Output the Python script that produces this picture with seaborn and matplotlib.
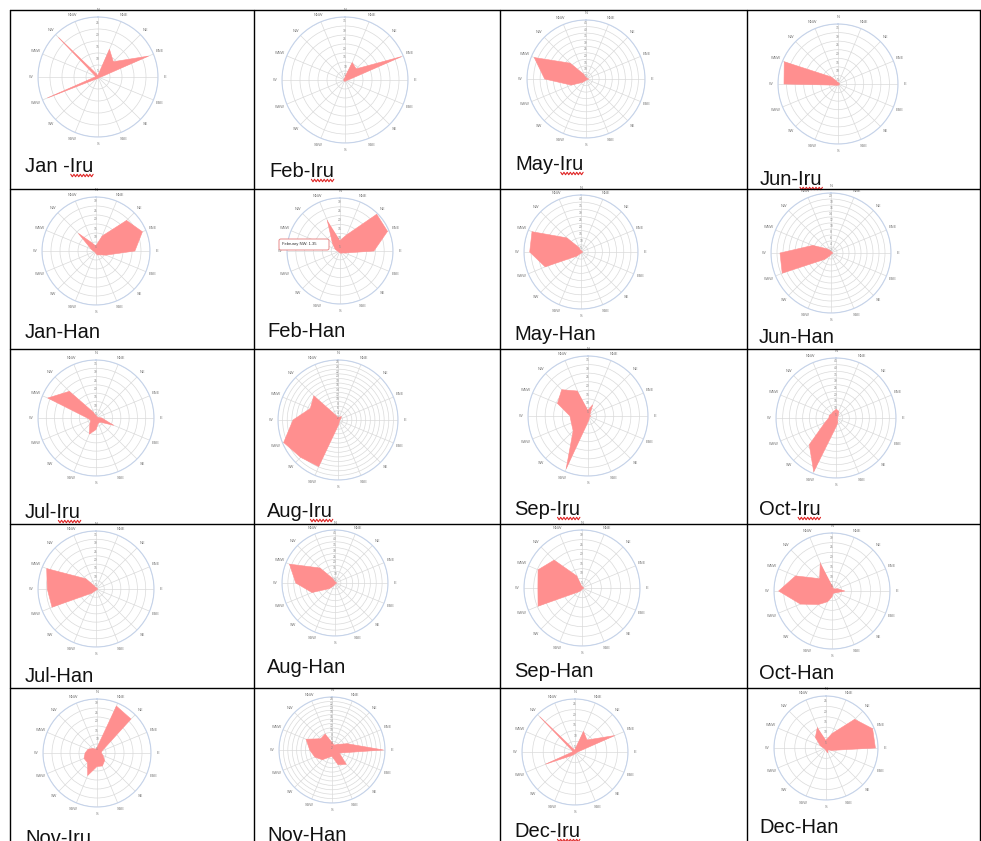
import numpy as np
import matplotlib.pyplot as plt
from matplotlib.lines import Line2D
from matplotlib.patches import FancyBboxPatch
import seaborn as sns

W, H = 981, 841

# wind directions, clockwise from north
directions = ['N', 'NNE', 'NE', 'ENE', 'E', 'ESE', 'SE', 'SSE',
              'S', 'SSW', 'SW', 'WSW', 'W', 'WNW', 'NW', 'NNW']

labels = ['Jan -Iru', 'Feb-Iru', 'May-Iru', 'Jun-Iru',
          'Jan-Han', 'Feb-Han', 'May-Han', 'Jun-Han',
          'Jul-Iru', 'Aug-Iru', 'Sep-Iru', 'Oct-Iru',
          'Jul-Han', 'Aug-Han', 'Sep-Han', 'Oct-Han',
          'Nov-Iru', 'Nov-Han', 'Dec-Iru', 'Dec-Han']

# frequency per direction (share of outer ring)
jan_iru = [0.03, 0.50, 0.36, 0.91, 0.05, 0.02, 0.02, 0.02, 0.02, 0.03, 0.05, 0.91, 0.05, 0.05, 0.93, 0.05]
feb_iru = [0.05, 0.30, 0.25, 0.97, 0.05, 0.02, 0.02, 0.02, 0.02, 0.02, 0.02, 0.02, 0.02, 0.02, 0.02, 0.03]
may_iru = [0.03, 0.02, 0.02, 0.02, 0.05, 0.02, 0.02, 0.02, 0.02, 0.03, 0.08, 0.27, 0.70, 0.95, 0.38, 0.08]
jun_iru = [0.03, 0.02, 0.02, 0.02, 0.03, 0.02, 0.02, 0.02, 0.02, 0.02, 0.03, 0.05, 0.90, 0.97, 0.17, 0.05]
jan_han = [0.10, 0.30, 0.80, 0.93, 0.72, 0.20, 0.10, 0.08, 0.05, 0.03, 0.03, 0.03, 0.05, 0.10, 0.46, 0.15]
feb_han = [0.20, 0.33, 0.98, 0.97, 0.64, 0.10, 0.05, 0.05, 0.03, 0.03, 0.03, 0.03, 0.05, 0.10, 0.20, 0.63]
may_han = [0.03, 0.02, 0.02, 0.02, 0.03, 0.02, 0.02, 0.02, 0.02, 0.03, 0.10, 0.68, 0.90, 0.93, 0.35, 0.08]
jun_han = [0.03, 0.02, 0.02, 0.02, 0.03, 0.02, 0.02, 0.02, 0.02, 0.05, 0.15, 0.88, 0.85, 0.33, 0.10, 0.05]
jul_iru = [0.05, 0.03, 0.03, 0.03, 0.10, 0.33, 0.10, 0.10, 0.20, 0.30, 0.15, 0.10, 0.15, 0.90, 0.65, 0.10]
aug_iru = [0.05, 0.05, 0.08, 0.05, 0.03, 0.03, 0.03, 0.05, 0.10, 0.84, 0.88, 0.98, 0.75, 0.50, 0.57, 0.08]
sep_iru = [0.10, 0.20, 0.05, 0.03, 0.05, 0.03, 0.03, 0.05, 0.10, 0.95, 0.35, 0.30, 0.30, 0.55, 0.62, 0.45]
oct_iru = [0.15, 0.12, 0.05, 0.03, 0.03, 0.03, 0.03, 0.08, 0.15, 0.97, 0.63, 0.20, 0.12, 0.12, 0.10, 0.12]
jul_han = [0.03, 0.02, 0.02, 0.02, 0.03, 0.02, 0.02, 0.02, 0.02, 0.03, 0.10, 0.82, 0.84, 0.92, 0.25, 0.05]
aug_han = [0.03, 0.02, 0.02, 0.02, 0.03, 0.02, 0.02, 0.02, 0.02, 0.05, 0.15, 0.47, 0.74, 0.93, 0.40, 0.08]
sep_han = [0.03, 0.02, 0.02, 0.02, 0.03, 0.02, 0.02, 0.02, 0.02, 0.05, 0.10, 0.82, 0.76, 0.82, 0.68, 0.22]
oct_han = [0.10, 0.05, 0.05, 0.10, 0.22, 0.08, 0.05, 0.05, 0.10, 0.20, 0.33, 0.59, 0.92, 0.68, 0.30, 0.53]
nov_iru = [0.10, 0.94, 0.89, 0.10, 0.08, 0.12, 0.20, 0.26, 0.25, 0.45, 0.25, 0.26, 0.22, 0.18, 0.12, 0.08]
nov_han = [0.15, 0.10, 0.15, 0.31, 0.97, 0.15, 0.38, 0.30, 0.12, 0.15, 0.26, 0.35, 0.42, 0.53, 0.30, 0.33]
dec_iru = [0.05, 0.42, 0.32, 0.81, 0.05, 0.03, 0.03, 0.03, 0.03, 0.05, 0.10, 0.60, 0.05, 0.05, 0.94, 0.05]
dec_han = [0.15, 0.30, 0.78, 0.97, 0.95, 0.12, 0.05, 0.10, 0.05, 0.03, 0.03, 0.03, 0.05, 0.12, 0.29, 0.43]

series = [jan_iru, feb_iru, may_iru, jun_iru,
          jan_han, feb_han, may_han, jun_han,
          jul_iru, aug_iru, sep_iru, oct_iru,
          jul_han, aug_han, sep_han, oct_han,
          nov_iru, nov_han, dec_iru, dec_han]

# number of grid rings and tick step of each chart
rings = [5, 7, 9, 7, 6, 6, 8, 10, 7, 13, 7, 9, 7, 9, 6, 6, 6, 12, 5, 5]
steps = [5, 5, 5, 5, 5, 5, 5, 2, 5, 2, 5, 5, 5, 5, 5, 5, 5, 2, 5, 5]

# layout in pixels: chart centre x, y, radius; caption left x, baseline y
chart_pos = [(98, 77, 60), (345, 80, 63), (586, 79, 59), (838, 84, 60),
             (96, 251, 54), (340, 251, 53), (581, 252, 57), (831, 253, 60),
             (96, 418, 58), (338, 420, 60), (588, 416, 60), (836, 418, 60),
             (96, 589, 58), (335, 583, 53), (582, 588, 58), (832, 591, 58),
             (97, 753, 54), (332, 750, 53), (575, 752, 53), (826, 748, 52)]
caption_pos = [(25, 172), (269, 177), (515, 170), (760, 185),
               (25, 338), (267, 337), (514, 340), (759, 343),
               (25, 518), (267, 517), (514, 515), (759, 515),
               (25, 682), (267, 673), (514, 677), (759, 679),
               (25, 844), (267, 841), (514, 837), (759, 833)]

sns.set_style('white')
plt.rcParams['font.family'] = ['Liberation Sans', 'DejaVu Sans']

fig = plt.figure(figsize=(W / 100, H / 100), dpi=100)
fill = '#ff8f8f'
theta = np.deg2rad(np.arange(16) * 22.5)

for vals, n, step, (cx, cy, R) in zip(series, rings, steps, chart_pos):
    ax = fig.add_axes([(cx - R) / W, 1 - (cy + R) / H, 2 * R / W, 2 * R / H],
                      projection='polar')
    ax.set_theta_zero_location('N')
    ax.set_theta_direction(-1)
    t = np.append(theta, theta[0])
    r = np.append(vals, vals[0])
    ax.fill(t, r, color=fill, lw=0, zorder=3)
    sns.lineplot(x=t, y=r, ax=ax, sort=False, color=fill, lw=0.4, zorder=3)
    ax.set_ylim(0, 1)
    ax.set_xticks(theta)
    ax.set_xticklabels([])
    ax.set_yticks(np.arange(1, n + 1) / n)
    ax.set_yticklabels([])
    ax.grid(color='#dadada', lw=0.5)
    ax.spines['polar'].set_color('#c5d3ea')
    ax.spines['polar'].set_linewidth(0.8)
    ax.set_xlabel('')
    ax.set_ylabel('')
    # compass labels just outside the ring
    for th, d in zip(theta, directions):
        ax.text(th, 1 + 7 / R, d, fontsize=2.8, color='#777777',
                ha='center', va='center', clip_on=False)
    # ring values along the north spoke
    for k in range(1, n + 1):
        ax.text(0, k / n - 0.5 / n, str(k * step), fontsize=2.3, color='#888888',
                ha='center', va='center', zorder=4)

# captions
renderer = fig.canvas.get_renderer()
for lab, (x, y) in zip(labels, caption_pos):
    txt = fig.text(x / W, 1 - y / H, lab, fontsize=14.5, color='#111111',
                   ha='left', va='baseline')
    if 'Iru' in lab:
        pre = fig.text(x / W, 1 - y / H, lab.split('Iru')[0], fontsize=14.5,
                       ha='left', va='baseline')
        x0 = pre.get_window_extent(renderer).x1 + 1
        pre.remove()
        x1 = txt.get_window_extent(renderer).x1
        xs = np.arange(x0, x1 + 1, 1.6)
        yb = H - y - 3.5
        ys = yb + np.where(np.arange(len(xs)) % 2 == 0, 1.2, -1.2)
        fig.add_artist(Line2D(xs / W, ys / H, transform=fig.transFigure,
                              color='#e02424', lw=0.8))

# tooltip on Feb-Han
fig.add_artist(FancyBboxPatch((279 / W, 1 - 250 / H), 50 / W, 11 / H,
                              boxstyle='round,pad=0,rounding_size=0.002',
                              transform=fig.transFigure, facecolor='white',
                              edgecolor='#e88a8a', lw=0.7, zorder=10))
fig.text(282 / W, 1 - 244.5 / H, 'February NW: 1.35', fontsize=3,
         color='#333333', va='center', zorder=11)

# table grid
for y in [10, 189, 349, 524, 688]:
    fig.add_artist(Line2D([10 / W, 981 / W], [1 - y / H] * 2,
                          transform=fig.transFigure, color='black', lw=1))
for x in [10, 254, 500, 747, 980]:
    fig.add_artist(Line2D([x / W] * 2, [1 - 10 / H, 0],
                          transform=fig.transFigure, color='black', lw=1))

fig.savefig('out.png', dpi=100)
